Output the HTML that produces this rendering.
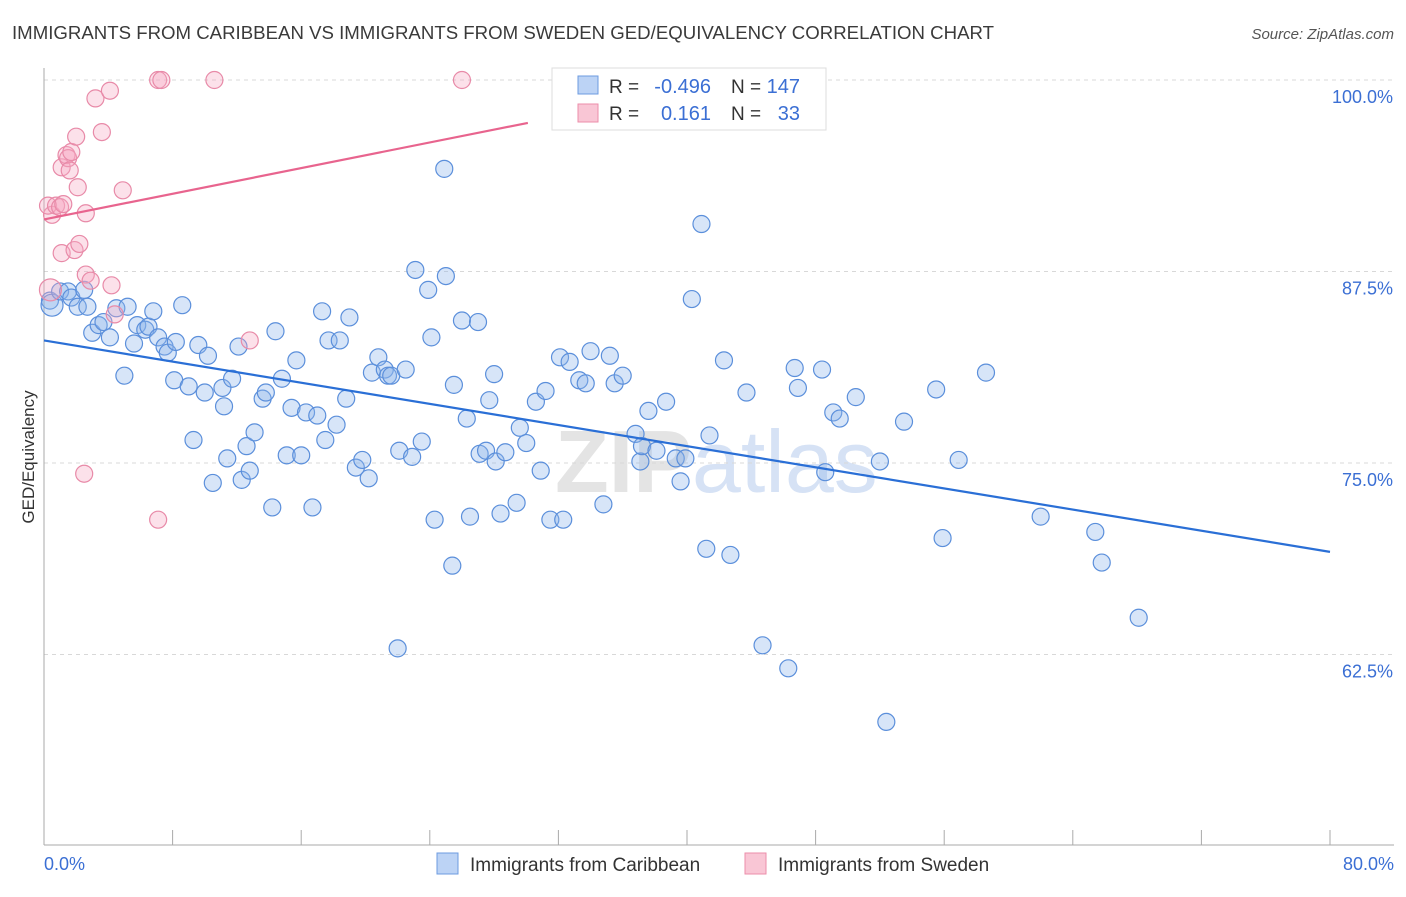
<!DOCTYPE html>
<html><head><meta charset="utf-8">
<style>
body{margin:0;background:#fff;font-family:"Liberation Sans",sans-serif;}
svg text{font-family:"Liberation Sans",sans-serif;}
</style></head>
<body>
<svg id="chart" width="1406" height="892" xmlns="http://www.w3.org/2000/svg">
<text x="12" y="39" font-size="18" fill="#3a3a3a" textLength="982" lengthAdjust="spacingAndGlyphs">IMMIGRANTS FROM CARIBBEAN VS IMMIGRANTS FROM SWEDEN GED/EQUIVALENCY CORRELATION CHART</text>
<text x="1394" y="39" font-size="15" fill="#555" text-anchor="end" font-style="italic">Source: ZipAtlas.com</text>
<text x="555" y="492" font-size="88" fill="#e4e4e4" font-weight="bold" font-family="Liberation Serif">ZIP<tspan fill="#d6e2f5" font-family="Liberation Sans" font-weight="normal">atlas</tspan></text>
<g id="grid"></g>
<g id="axes"></g>
<g id="pts"></g>
<g id="trend"></g>
<text transform="translate(34,457) rotate(-90)" font-size="17" fill="#333" text-anchor="middle">GED/Equivalency</text>
<text x="44" y="870" font-size="18" fill="#3b6fd4">0.0%</text>
<text x="1394" y="870" font-size="18" fill="#3b6fd4" text-anchor="end">80.0%</text>
<g>
<rect x="552" y="68" width="274" height="62" fill="#fff" stroke="#ddd"/>
<rect x="578" y="76" width="20" height="18" fill="#bcd3f5" stroke="#6d9be0"/>
<rect x="578" y="104" width="20" height="18" fill="#f9c6d5" stroke="#ec8eaa"/>
<text x="609" y="93" font-size="19" fill="#333">R =</text>
<text x="711" y="93" font-size="20" fill="#3b6fd4" text-anchor="end">-0.496</text>
<text x="731" y="93" font-size="19" fill="#333">N =</text>
<text x="800" y="93" font-size="20" fill="#3b6fd4" text-anchor="end">147</text>
<text x="609" y="120" font-size="19" fill="#333">R =</text>
<text x="711" y="120" font-size="20" fill="#3b6fd4" text-anchor="end">0.161</text>
<text x="731" y="120" font-size="19" fill="#333">N =</text>
<text x="800" y="120" font-size="20" fill="#3b6fd4" text-anchor="end">33</text>
</g>
<g>
<rect x="437" y="853" width="21" height="21" fill="#bcd3f5" stroke="#6d9be0"/>
<text x="470" y="871" font-size="19" fill="#333">Immigrants from Caribbean</text>
<rect x="745" y="853" width="21" height="21" fill="#f9c6d5" stroke="#ec8eaa"/>
<text x="778" y="871" font-size="19" fill="#333">Immigrants from Sweden</text>
</g>
</svg>
<script>
const yTicks=[100,87.5,75,62.5];
const yTickLabels=["100.0%","87.5%","75.0%","62.5%"];
const xTicks=[0,8,16,24,32,40,48,56,64,72,80];
const blueX=[0.37,0.5,1.0,1.5,1.7,2.1,2.5,2.7,3.0,3.4,3.7,4.1,4.5,5.0,5.2,5.6,5.8,6.3,6.5,6.8,7.1,7.5,7.7,8.1,8.2,8.6,9.0,9.3,9.6,10.0,10.2,10.5,11.1,11.2,11.4,11.7,12.1,12.3,12.6,12.8,13.1,13.6,13.8,14.2,14.4,14.8,15.1,15.4,15.7,16.0,16.3,16.7,17.0,17.3,17.5,17.7,18.2,18.4,18.8,19.0,19.4,19.8,20.2,20.4,20.8,21.2,21.4,21.6,22.1,22.5,22.9,23.1,23.5,23.9,24.1,24.3,25.0,25.4,25.5,26.0,26.3,26.5,27.0,27.1,27.5,27.7,28.0,28.1,28.4,28.7,29.4,29.6,30.0,30.6,30.9,31.2,31.5,32.1,32.3,32.7,33.3,33.7,34.0,34.8,35.2,35.5,36.0,36.8,37.1,37.2,37.6,38.1,38.7,39.3,39.6,39.9,40.3,40.9,41.2,41.4,42.3,42.7,43.7,44.7,46.3,46.7,46.9,48.4,48.6,49.1,49.5,50.5,52.0,52.4,53.5,55.5,55.9,56.9,58.6,62.0,65.4,65.8,68.1,24.9,22.0];
const blueY=[85.6,85.3,86.2,86.2,85.8,85.2,86.3,85.2,83.5,84.0,84.2,83.2,85.1,80.7,85.2,82.8,84.0,83.7,83.9,84.9,83.2,82.6,82.2,80.4,82.9,85.3,80.0,76.5,82.7,79.6,82.0,73.7,79.9,78.7,75.3,80.5,82.6,73.9,76.1,74.5,77.0,79.2,79.6,72.1,83.6,80.5,75.5,78.6,81.7,75.5,78.3,72.1,78.1,84.9,76.5,83.0,77.5,83.0,79.2,84.5,74.7,75.2,74.0,80.9,81.9,81.1,80.7,80.7,75.8,81.1,75.4,87.6,76.4,86.3,83.2,71.3,87.2,68.3,80.1,84.3,77.9,71.5,84.2,75.6,75.8,79.1,80.8,75.1,71.7,75.7,72.4,77.3,76.3,79.0,74.5,79.7,71.3,81.9,71.3,81.6,80.4,80.2,82.3,72.3,82.0,80.2,80.7,76.9,75.1,76.1,78.4,75.8,79.0,75.3,73.8,75.3,85.7,90.6,69.4,76.8,81.7,69.0,79.6,63.1,61.6,81.2,79.9,81.1,74.4,78.3,77.9,79.3,75.1,58.1,77.7,79.8,70.1,75.2,80.9,71.5,70.5,68.5,64.9,94.2,62.9];
const pinkX=[0.5,0.25,0.4,0.75,1.0,1.1,1.4,1.5,1.6,1.7,2.0,2.1,1.2,1.1,1.9,2.2,2.6,2.6,2.9,3.2,3.6,4.1,4.4,4.2,4.9,2.5,7.1,7.1,7.3,10.6,12.8,26.0];
const pinkY=[91.2,91.8,86.3,91.8,91.7,94.3,95.1,94.9,94.1,95.3,96.3,93.0,91.9,88.7,88.9,89.3,91.3,87.3,86.9,98.8,96.6,99.3,84.7,86.6,92.8,74.3,71.3,100,100,100,83.0,100];
const blueTrend=[[0,83.0],[80,69.2]];
const pinkTrend=[[0,90.9],[30.1,97.2]];
const X=v=>44+v*1286/80, Y=v=>80+(100-v)*191.5/12.5;
const NS="http://www.w3.org/2000/svg";
function mk(tag,attrs,parent){const e=document.createElementNS(NS,tag);for(const k in attrs)e.setAttribute(k,attrs[k]);parent.appendChild(e);return e;}
const grid=document.getElementById('grid'),axes=document.getElementById('axes'),pts=document.getElementById('pts'),trend=document.getElementById('trend');
yTicks.forEach((t,i)=>{
  const l=mk('line',{x1:44,x2:1394,y1:Y(t),y2:Y(t),stroke:'#d8d8d8','stroke-dasharray':'4,4'},grid);
  
  
  const tx=mk('text',{x:1393,y:Y(t)+23,'font-size':18,fill:'#3b6fd4','text-anchor':'end'},grid);
  tx.textContent=yTickLabels[i];
  
  
});
const ya=mk('line',{x1:44,x2:44,y1:68,y2:845,stroke:'#aaa'},axes);


const xa=mk('line',{x1:44,x2:1394,y1:845,y2:845,stroke:'#aaa'},axes);


xTicks.forEach(t=>{
  const l=mk('line',{x1:X(t),x2:X(t),y1:830,y2:845,stroke:'#aaa'},axes);
  
  
});
blueX.forEach((v,i)=>{
  const c=mk('circle',{cx:X(v),cy:Y(blueY[i]),r:(i==1?11:8.5),fill:'rgba(140,180,235,0.35)',stroke:'#5b8fdb','stroke-width':1.2},pts);
  
  
});
pinkX.forEach((v,i)=>{
  const c=mk('circle',{cx:X(v),cy:Y(pinkY[i]),r:(i==2?11:8.5),fill:'rgba(245,170,195,0.35)',stroke:'#e88aa8','stroke-width':1.2},pts);
  
  
});
const bl=mk('line',{x1:X(blueTrend[0][0]),y1:Y(blueTrend[0][1]),x2:X(blueTrend[1][0]),y2:Y(blueTrend[1][1]),stroke:'#2a6fd6','stroke-width':2.2},trend);


const pl=mk('line',{x1:X(pinkTrend[0][0]),y1:Y(pinkTrend[0][1]),x2:X(pinkTrend[1][0]),y2:Y(pinkTrend[1][1]),stroke:'#e8648e','stroke-width':2.2},trend);


</script>
</body></html>
